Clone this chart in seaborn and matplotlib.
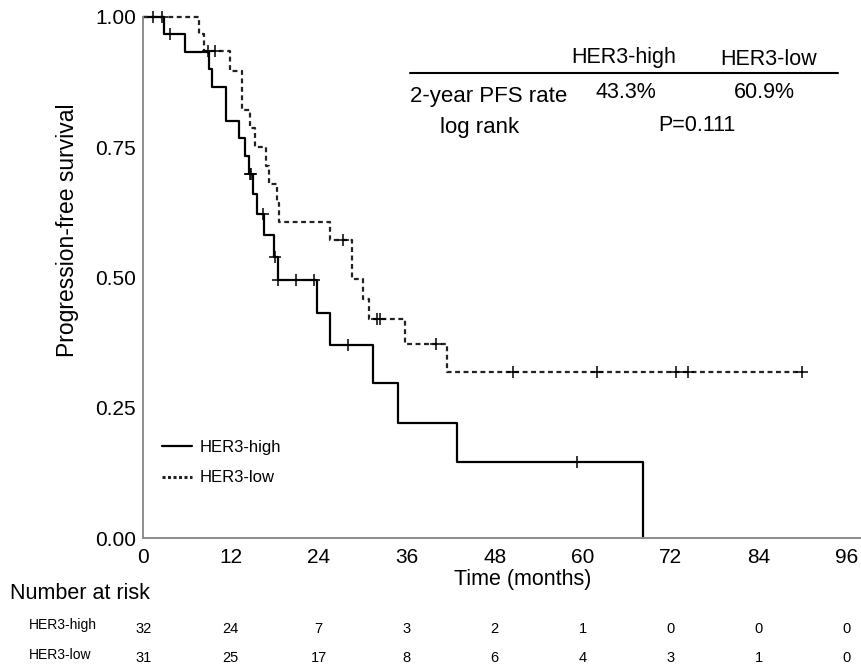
import numpy as np
import pandas as pd
import matplotlib
matplotlib.use("Agg")
import matplotlib.pyplot as plt
from matplotlib.lines import Line2D
import seaborn as sns

# --- values ---
# step curves: time of each drop (months) and survival just after it
high_t = [0, 2.9, 5.8, 9.0, 9.4, 11.4, 13.1, 14.0, 14.5, 15.1, 15.6, 16.5,
          17.9, 18.4, 23.8, 25.6, 31.4, 34.8, 42.8, 68.2]
high_s = [1.0, 0.966, 0.933, 0.899, 0.866, 0.800, 0.767, 0.733, 0.698, 0.661,
          0.622, 0.581, 0.539, 0.495, 0.431, 0.371, 0.297, 0.222, 0.147, 0.0]
high_cens = [1.45, 3.7, 14.6, 14.75, 16.4, 18.05, 18.5, 20.9, 23.4, 28.0, 59.2]

low_t = [0, 7.7, 8.4, 11.9, 13.5, 14.6, 15.3, 16.8, 17.2, 18.3, 18.6, 25.6,
         28.6, 30.1, 30.9, 35.8, 41.5]
low_s = [1.0, 0.967, 0.935, 0.896, 0.822, 0.787, 0.750, 0.714, 0.679, 0.642,
         0.607, 0.571, 0.497, 0.458, 0.420, 0.373, 0.319]
low_cens = [2.7, 8.95, 9.9, 27.3, 31.9, 32.4, 40.0, 50.5, 61.9, 72.8, 74.4, 89.9]

groups = ["HER3-high", "HER3-low"]
time_ticks = [0, 12, 24, 36, 48, 60, 72, 84, 96]
risk_high = [32, 24, 7, 3, 2, 1, 0, 0, 0]
risk_low = [31, 25, 17, 8, 6, 4, 3, 1, 0]
pfs_2y = ["43.3%", "60.9%"]
p_logrank = "P=0.111"

W, H = 862, 666

sns.set_theme(style="white")
plt.rcParams["font.family"] = ["Liberation Sans", "DejaVu Sans"]
plt.rcParams["text.color"] = "black"


def fx(x):
    return x / W


def fy(y):
    return 1 - y / H


def surv_at(t, times, surv):
    i = np.searchsorted(times, t, side="right") - 1
    return surv[i]


fig = plt.figure(figsize=(W / 100, H / 100), dpi=100)
ax = fig.add_axes([fx(142.7), fy(538.3), 1 - fx(142.7), fy(16.7) - fy(538.3)])

df_high = pd.DataFrame({"t": high_t, "s": high_s})
# low curve carries on flat until the last follow-up
df_low = pd.DataFrame({"t": low_t + [max(low_cens)], "s": low_s + [low_s[-1]]})

sns.lineplot(data=df_high, x="t", y="s", ax=ax, color="black", lw=1.6,
             drawstyle="steps-post", estimator=None, sort=False, clip_on=False)
sns.lineplot(data=df_low, x="t", y="s", ax=ax, color="#222222", lw=1.6,
             linestyle=(0, (2.2, 1.6)), drawstyle="steps-post",
             estimator=None, sort=False, clip_on=False)

cens = pd.DataFrame({
    "t": high_cens + low_cens,
    "s": [surv_at(c, high_t, high_s) for c in high_cens]
         + [surv_at(c, low_t, low_s) for c in low_cens],
})
sns.scatterplot(data=cens, x="t", y="s", ax=ax, marker="+", s=65,
                color="black", linewidth=1.1, clip_on=False, zorder=5)

ax.set_xlim(0, 98.1)
ax.set_ylim(0, 1)
ax.set_xticks(time_ticks)
ax.set_yticks([0, 0.25, 0.5, 0.75, 1.0])
ax.set_yticklabels([f"{v:.2f}" for v in [0, 0.25, 0.5, 0.75, 1.0]])
ax.tick_params(axis="both", length=0, labelsize=15, colors="black")
ax.tick_params(axis="x", pad=7)
ax.tick_params(axis="y", pad=5)
ax.set_xlabel("")
ax.set_ylabel("")
for side in ["top", "right"]:
    ax.spines[side].set_visible(False)
for side in ["left", "bottom"]:
    ax.spines[side].set_color("#8c8c8c")
    ax.spines[side].set_linewidth(1.4)

fig.text(fx(68), fy(230), "Progression-free survival", rotation=90,
         ha="center", va="center", fontsize=16.5)
fig.text(fx(523), fy(580), "Time (months)", ha="center", va="center",
         fontsize=15.5)

# legend
handles = [Line2D([], [], color="black", lw=1.6),
           Line2D([], [], color="#222222", lw=2.2, linestyle=(0, (1.0, 0.8)))]
ax.legend(handles, groups, loc="center left",
          bbox_to_anchor=((161.7 - 142.7) / (W - 142.7), (538.3 - 462.5) / 521.6),
          frameon=False, fontsize=12, handlelength=1.8, handletextpad=0.5,
          labelspacing=0.95, borderpad=0, borderaxespad=0, labelcolor="black")

# summary table, top right
fig.add_artist(Line2D([fx(410), fx(838)], [fy(73.3), fy(73.3)],
                      color="black", lw=1.5))
fig.text(fx(624), fy(62.7), groups[0], ha="center", va="baseline", fontsize=15.5)
fig.text(fx(769), fy(65), groups[1], ha="center", va="baseline", fontsize=15.5)
fig.text(fx(410), fy(101.7), "2-year PFS rate", ha="left", va="baseline",
         fontsize=16)
fig.text(fx(626), fy(98.3), pfs_2y[0], ha="center", va="baseline", fontsize=15.5)
fig.text(fx(764), fy(98.3), pfs_2y[1], ha="center", va="baseline", fontsize=15.5)
fig.text(fx(440), fy(133.3), "log rank", ha="left", va="baseline", fontsize=16)
fig.text(fx(697), fy(131), p_logrank, ha="center", va="baseline", fontsize=15.5)

# number at risk table
fig.text(fx(10), fy(599.3), "Number at risk", ha="left", va="baseline",
         fontsize=15.5)
fig.text(fx(29.3), fy(629.3), groups[0], ha="left", va="baseline", fontsize=10)
fig.text(fx(29.3), fy(659.3), groups[1], ha="left", va="baseline", fontsize=10)
trans = ax.get_xaxis_transform()
y_high = (fy(633.3) - fy(538.3)) / (fy(16.7) - fy(538.3))
y_low = (fy(661.7) - fy(538.3)) / (fy(16.7) - fy(538.3))
for t, nh, nl in zip(time_ticks, risk_high, risk_low):
    tt = t + 0.15 if t == 0 else t
    ax.text(tt, y_high, str(nh), transform=trans, ha="center", va="baseline",
            fontsize=10.5, clip_on=False)
    ax.text(tt, y_low, str(nl), transform=trans, ha="center", va="baseline",
            fontsize=10.5, clip_on=False)

fig.savefig("out.png", dpi=100)
